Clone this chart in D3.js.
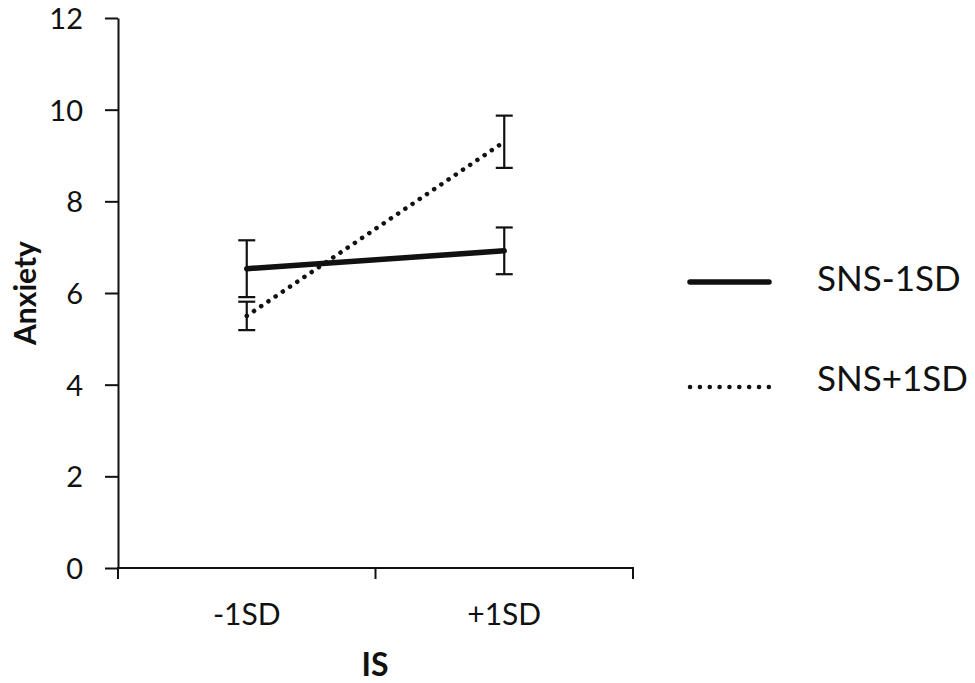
<!DOCTYPE html>
<html><head><meta charset="utf-8">
<script src="https://cdn.jsdelivr.net/npm/d3@7"></script>
<style>body{margin:0;background:#fff}text{font-family:Lato,"Open Sans",sans-serif;fill:#111}</style>
</head><body><svg id="c" width="975" height="683"></svg>
<script>
const categories = ["-1SD", "+1SD"];
const seriesNames = ["SNS-1SD", "SNS+1SD"];
const snsMinus = [6.53, 6.92];
const snsMinusErr = [0.62, 0.51];
const snsPlus = [5.5, 9.3];
const snsPlusErr = [0.31, 0.57];
const yTicks = [0, 2, 4, 6, 8, 10, 12];

const svg = d3.select("#c");
const x = d3.scaleBand().domain(categories).range([118, 633]).padding(0);
const y = d3.scaleLinear().domain([0, 12]).range([568, 18]);
const cx = c => x(c) + x.bandwidth() / 2;

// y axis
const ya = svg.append("g").attr("transform", "translate(118,0)")
  .call(d3.axisLeft(y).tickValues(yTicks).tickSize(13).tickPadding(22).tickSizeOuter(0));
ya.select(".domain").attr("stroke", "#111").attr("stroke-width", 2);
ya.selectAll(".tick line").attr("stroke", "#111").attr("stroke-width", 2);
ya.selectAll(".tick text").style("font-size", "29px").attr("fill", "#111").attr("dy", "0.36em");

// x axis
svg.append("line").attr("x1", 117).attr("x2", 634).attr("y1", 568).attr("y2", 568)
  .attr("stroke", "#111").attr("stroke-width", 2);
const bounds = [x(categories[0]), x(categories[1]), x(categories[1]) + x.bandwidth()];
svg.selectAll(".xt").data(bounds).enter().append("line")
  .attr("x1", d => d).attr("x2", d => d).attr("y1", 567).attr("y2", 579)
  .attr("stroke", "#111").attr("stroke-width", 2);
svg.selectAll(".xl").data(categories).enter().append("text")
  .attr("x", d => cx(d)).attr("y", 625).attr("text-anchor", "middle")
  .style("font-size", "30px").text(d => d);

// axis titles
svg.append("text").attr("x", 375).attr("y", 676).attr("text-anchor", "middle")
  .style("font-size", "32px").style("font-weight", "bold").text("IS");
svg.append("text").attr("transform", "translate(36,293) rotate(-90)").attr("text-anchor", "middle")
  .style("font-size", "30px").style("font-weight", "bold").text("Anxiety");

// error bars
function errBars(vals, errs) {
  categories.forEach((c, i) => {
    const g = svg.append("g").attr("stroke", "#111").attr("stroke-width", 2.2);
    g.append("line").attr("x1", cx(c)).attr("x2", cx(c)).attr("y1", y(vals[i] + errs[i])).attr("y2", y(vals[i] - errs[i]));
    [vals[i] + errs[i], vals[i] - errs[i]].forEach(v =>
      g.append("line").attr("x1", cx(c) - 8.5).attr("x2", cx(c) + 8.5).attr("y1", y(v)).attr("y2", y(v)));
  });
}
errBars(snsMinus, snsMinusErr);
errBars(snsPlus, snsPlusErr);

const line = d3.line().x((d, i) => cx(categories[i])).y(d => y(d));
svg.append("path").datum(snsMinus).attr("d", line).attr("fill", "none")
  .attr("stroke", "#111").attr("stroke-width", 5.5).attr("stroke-linecap", "round");
svg.append("path").datum(snsPlus).attr("d", line).attr("fill", "none")
  .attr("stroke", "#111").attr("stroke-width", 4.5).attr("stroke-linecap", "round")
  .attr("stroke-dasharray", "0.1 8.6");

// legend
const legY = [282, 387];
const legText = [291, 391];
const styles = [{w: 5.5, dash: null}, {w: 4.5, dash: "0.1 9.75"}];
seriesNames.forEach((s, i) => {
  const l = svg.append("line").attr("x1", 690).attr("x2", 769).attr("y1", legY[i]).attr("y2", legY[i])
    .attr("stroke", "#111").attr("stroke-width", styles[i].w).attr("stroke-linecap", "round");
  if (styles[i].dash) l.attr("stroke-dasharray", styles[i].dash);
  svg.append("text").attr("x", 817).attr("y", legText[i]).style("font-size", "35px").text(s);
});
</script></body></html>
